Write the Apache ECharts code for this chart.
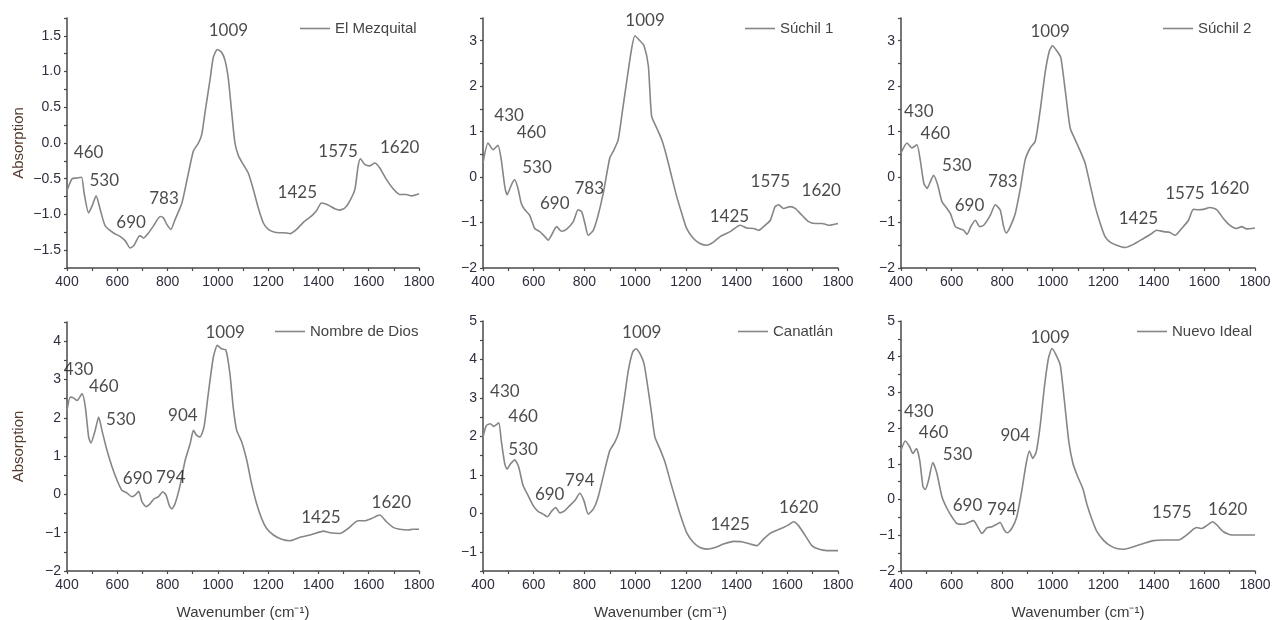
<!DOCTYPE html>
<html>
<head>
<meta charset="utf-8">
<script src="https://cdn.jsdelivr.net/npm/echarts@6/dist/echarts.min.js"></script>
<style>
	html, body { margin: 0; padding: 0; background: #ffffff; }
	#main { width: 1273px; height: 620px; }
</style>
</head>
<body>
<div id="main"></div>
<script>
// spectra: [wavenumber, absorption]
var mezquital = [[400,-0.67],[420,-0.50],[440,-0.49],[458,-0.48],[468,-0.70],[486,-0.98],[500,-0.88],[516,-0.74],[532,-0.93],[552,-1.16],[585,-1.26],[612,-1.31],[632,-1.37],[651,-1.47],[665,-1.44],[685,-1.31],[691,-1.30],[704,-1.33],[724,-1.26],[744,-1.16],[771,-1.03],[784,-1.05],[797,-1.14],[813,-1.21],[830,-1.07],[857,-0.84],[883,-0.42],[903,-0.11],[923,0.0],[936,0.12],[949,0.43],[969,0.89],[982,1.20],[998,1.31],[1015,1.27],[1029,1.15],[1042,0.89],[1055,0.43],[1068,0.0],[1082,-0.18],[1101,-0.30],[1121,-0.42],[1141,-0.65],[1161,-0.91],[1181,-1.12],[1201,-1.21],[1227,-1.25],[1273,-1.26],[1287,-1.27],[1313,-1.21],[1340,-1.11],[1373,-1.02],[1392,-0.95],[1412,-0.84],[1426,-0.85],[1445,-0.88],[1465,-0.92],[1485,-0.94],[1505,-0.91],[1525,-0.81],[1545,-0.65],[1558,-0.32],[1567,-0.22],[1584,-0.30],[1604,-0.32],[1624,-0.28],[1644,-0.35],[1670,-0.51],[1697,-0.64],[1723,-0.72],[1750,-0.72],[1770,-0.74],[1800,-0.71]];
var suchil1 = [[400,0.31],[420,0.75],[440,0.60],[459,0.70],[472,0.38],[486,-0.21],[495,-0.39],[512,-0.17],[525,-0.06],[538,-0.25],[551,-0.58],[565,-0.72],[584,-0.84],[604,-1.13],[624,-1.20],[644,-1.31],[657,-1.39],[670,-1.28],[690,-1.09],[709,-1.19],[729,-1.15],[756,-0.98],[775,-0.72],[789,-0.76],[802,-1.02],[815,-1.28],[835,-1.17],[854,-0.84],[874,-0.36],[900,0.42],[914,0.57],[933,0.82],[947,1.34],[966,2.08],[986,2.82],[999,3.11],[1019,3.00],[1035,2.89],[1052,2.45],[1065,1.34],[1085,1.08],[1105,0.82],[1124,0.46],[1144,0.01],[1164,-0.43],[1184,-0.80],[1203,-1.13],[1230,-1.35],[1256,-1.46],[1282,-1.50],[1309,-1.43],[1335,-1.31],[1375,-1.20],[1414,-1.06],[1440,-1.12],[1467,-1.13],[1487,-1.17],[1506,-1.09],[1533,-0.95],[1552,-0.65],[1566,-0.61],[1585,-0.69],[1612,-0.65],[1631,-0.69],[1658,-0.84],[1684,-0.98],[1710,-1.02],[1737,-1.02],[1763,-1.06],[1800,-1.02]];
var suchil2 = [[400,0.53],[424,0.75],[443,0.64],[463,0.71],[476,0.38],[490,-0.13],[503,-0.25],[516,-0.10],[529,0.04],[545,-0.17],[562,-0.54],[582,-0.69],[595,-0.80],[615,-1.09],[634,-1.14],[648,-1.17],[661,-1.26],[677,-1.08],[694,-0.95],[711,-1.09],[727,-1.06],[753,-0.84],[773,-0.61],[792,-0.72],[806,-1.09],[816,-1.23],[832,-1.09],[852,-0.80],[872,-0.25],[891,0.38],[911,0.64],[931,0.79],[951,1.49],[970,2.30],[987,2.78],[999,2.89],[1016,2.78],[1032,2.63],[1049,1.93],[1069,1.08],[1089,0.82],[1109,0.57],[1128,0.31],[1148,-0.17],[1168,-0.65],[1188,-1.02],[1207,-1.31],[1227,-1.43],[1253,-1.50],[1286,-1.55],[1319,-1.48],[1359,-1.35],[1392,-1.24],[1411,-1.17],[1438,-1.20],[1464,-1.22],[1484,-1.28],[1510,-1.13],[1537,-0.95],[1556,-0.71],[1576,-0.72],[1596,-0.71],[1622,-0.67],[1649,-0.72],[1675,-0.91],[1701,-1.06],[1728,-1.13],[1747,-1.09],[1767,-1.14],[1800,-1.12]];
var nombreDeDios = [[400,2.19],[413,2.54],[426,2.52],[440,2.45],[460,2.63],[473,2.28],[486,1.50],[495,1.34],[512,1.67],[526,2.02],[539,1.67],[559,1.15],[579,0.72],[599,0.37],[618,0.11],[638,0.04],[658,-0.06],[671,-0.02],[685,0.08],[698,-0.19],[714,-0.32],[731,-0.24],[747,-0.11],[764,-0.06],[781,0.07],[794,-0.02],[808,-0.31],[817,-0.38],[830,-0.24],[850,0.24],[870,0.89],[890,1.33],[903,1.67],[916,1.54],[929,1.50],[945,1.76],[962,2.63],[982,3.58],[998,3.89],[1015,3.80],[1032,3.77],[1048,3.15],[1061,2.28],[1075,1.67],[1095,1.37],[1115,0.89],[1134,0.28],[1154,-0.24],[1174,-0.63],[1194,-0.89],[1221,-1.06],[1254,-1.17],[1287,-1.21],[1327,-1.12],[1367,-1.06],[1420,-0.96],[1446,-1.00],[1485,-1.02],[1518,-0.89],[1558,-0.69],[1584,-0.69],[1611,-0.63],[1644,-0.54],[1670,-0.71],[1697,-0.86],[1723,-0.91],[1757,-0.93],[1776,-0.91],[1800,-0.91]];
var canatlan = [[400,1.98],[413,2.28],[429,2.33],[442,2.26],[462,2.35],[472,1.89],[486,1.28],[495,1.15],[508,1.28],[525,1.39],[541,1.20],[558,0.72],[578,0.46],[598,0.20],[617,0.05],[637,-0.02],[654,-0.09],[670,0.05],[687,0.15],[703,0.01],[723,0.07],[742,0.20],[762,0.33],[782,0.52],[798,0.33],[815,-0.02],[835,0.11],[854,0.42],[881,1.15],[900,1.63],[920,1.85],[937,2.15],[956,2.93],[973,3.71],[990,4.19],[1003,4.28],[1019,4.15],[1035,3.89],[1052,3.19],[1065,2.59],[1078,1.98],[1098,1.67],[1118,1.33],[1138,0.85],[1157,0.42],[1177,-0.02],[1203,-0.50],[1230,-0.76],[1256,-0.89],[1282,-0.93],[1315,-0.89],[1348,-0.80],[1388,-0.73],[1421,-0.74],[1454,-0.80],[1480,-0.84],[1506,-0.67],[1533,-0.52],[1559,-0.44],[1585,-0.37],[1605,-0.30],[1625,-0.22],[1644,-0.32],[1671,-0.58],[1697,-0.84],[1723,-0.93],[1756,-0.97],[1800,-0.97]];
var nuevoIdeal = [[400,1.38],[417,1.64],[434,1.48],[447,1.29],[461,1.43],[474,1.10],[487,0.36],[496,0.28],[509,0.54],[526,1.04],[542,0.73],[562,0.08],[582,-0.25],[601,-0.48],[621,-0.67],[648,-0.69],[667,-0.64],[687,-0.59],[703,-0.76],[720,-0.95],[740,-0.79],[760,-0.76],[779,-0.69],[792,-0.64],[808,-0.85],[821,-0.93],[838,-0.81],[858,-0.48],[878,0.26],[895,1.01],[908,1.36],[921,1.15],[935,1.34],[950,2.04],[967,3.15],[983,3.95],[997,4.23],[1014,4.04],[1030,3.76],[1046,2.78],[1063,1.66],[1080,1.01],[1099,0.64],[1119,0.31],[1136,-0.15],[1156,-0.57],[1175,-0.90],[1202,-1.15],[1227,-1.29],[1253,-1.37],[1280,-1.39],[1319,-1.32],[1359,-1.23],[1398,-1.15],[1438,-1.13],[1497,-1.13],[1530,-0.99],[1556,-0.83],[1569,-0.78],[1589,-0.81],[1609,-0.73],[1632,-0.62],[1649,-0.71],[1675,-0.90],[1708,-0.99],[1741,-0.99],[1800,-0.99]];

// peak labels: [text, wavenumber, absorption] of the label centre
var mezquitalPeaks = [['1009',1042,1.57],['460',486,-0.14],['530',548,-0.52],['690',655,-1.11],['783',786,-0.78],['1425',1316,-0.70],['1575',1478,-0.12],['1620',1723,-0.07]];
var suchil1Peaks = [['1009',1039,3.44],['430',503,1.36],['460',591,0.97],['530',613,0.21],['690',683,-0.58],['783',819,-0.25],['1425',1372,-0.86],['1575',1533,-0.10],['1620',1734,-0.30]];
var suchil2Peaks = [['1009',990,3.21],['430',470,1.45],['460',536,0.96],['530',621,0.25],['690',671,-0.62],['783',803,-0.09],['1425',1339,-0.92],['1575',1523,-0.37],['1620',1699,-0.26]];
var nombreDeDiosPeaks = [['1009',1029,4.23],['430',446,3.25],['460',546,2.82],['530',614,1.95],['904',861,2.06],['690',681,0.41],['794',813,0.43],['1425',1410,-0.60],['1620',1690,-0.21]];
var canatlanPeaks = [['1009',1026,4.71],['430',486,3.17],['460',558,2.52],['530',558,1.67],['690',663,0.48],['794',782,0.85],['1425',1375,-0.28],['1620',1645,0.15]];
var nuevoIdealPeaks = [['1009',990,4.55],['430',470,2.46],['460',529,1.87],['530',624,1.26],['904',852,1.80],['690',663,-0.17],['794',799,-0.27],['1575',1471,-0.36],['1620',1692,-0.29]];

var panels = [
	{name:'El Mezquital', data:mezquital, peaks:mezquitalPeaks, yMin:-1.75, yMax:1.75, yStep:0.5, dec:1,
		grid:{left:67, top:18, width:352, height:250}, legend:{left:300, top:21}, yTitle:true, xTitle:false},
	{name:'Súchil 1', data:suchil1, peaks:suchil1Peaks, yMin:-2, yMax:3.5, yStep:1, dec:0,
		grid:{left:483, top:18, width:355, height:250}, legend:{left:745, top:21}, yTitle:false, xTitle:false},
	{name:'Súchil 2', data:suchil2, peaks:suchil2Peaks, yMin:-2, yMax:3.5, yStep:1, dec:0,
		grid:{left:901, top:18, width:354, height:250}, legend:{left:1163, top:21}, yTitle:false, xTitle:false},
	{name:'Nombre de Dios', data:nombreDeDios, peaks:nombreDeDiosPeaks, yMin:-2, yMax:4.5, yStep:1, dec:0,
		grid:{left:67, top:322, width:352, height:249}, legend:{left:275, top:324}, yTitle:true, xTitle:true},
	{name:'Canatlán', data:canatlan, peaks:canatlanPeaks, yMin:-1.5, yMax:5, yStep:1, dec:0,
		grid:{left:483, top:321, width:355, height:250}, legend:{left:738, top:324}, yTitle:false, xTitle:true},
	{name:'Nuevo Ideal', data:nuevoIdeal, peaks:nuevoIdealPeaks, yMin:-2, yMax:5, yStep:1, dec:0,
		grid:{left:901, top:321, width:354, height:250}, legend:{left:1137, top:324}, yTitle:false, xTitle:true}
];

var axisColor = '#4a4a4a';
var labelColor = '#2e2e3e';
var curveColor = '#868686';

var onStep = function(v, step){
	var r = v / step;
	return Math.abs(r - Math.round(r)) < 1e-6;
};

var grids = [], xAxes = [], yAxes = [], series = [], legends = [];

panels.forEach(function(p, i){
	// fixed plot boxes, do not let ECharts shrink them for the labels
	var g = p.grid;
	grids.push({left:g.left, top:g.top, width:g.width, height:g.height, outerBoundsMode:'none', containLabel:false});

	xAxes.push({
		type:'value', gridIndex:i, min:400, max:1800, interval:100,
		name:p.xTitle ? 'Wavenumber (cm\u207B\u00B9)' : '',
		nameLocation:'middle', nameGap:34,
		nameTextStyle:{fontFamily:'Liberation Sans', fontSize:15, color:'#3a3a3a'},
		axisLine:{show:true, onZero:false, lineStyle:{color:axisColor, width:1.5}},
		axisTick:{show:true, inside:false, length:3, lineStyle:{color:axisColor, width:1.2}},
		axisLabel:{
			margin:7, fontFamily:'Liberation Sans', fontSize:14, color:labelColor,
			formatter:function(v){ return onStep(v, 200) ? String(v) : ''; }
		},
		splitLine:{show:false}
	});

	yAxes.push({
		type:'value', gridIndex:i, min:p.yMin, max:p.yMax, interval:p.yStep / 2,
		name:p.yTitle ? 'Absorption' : '',
		nameLocation:'middle', nameGap:41,
		nameTextStyle:{fontFamily:'Liberation Sans', fontSize:15, color:'#553a2e'},
		axisLine:{show:true, onZero:false, lineStyle:{color:axisColor, width:1.5}},
		axisTick:{show:true, inside:false, length:3, lineStyle:{color:axisColor, width:1.2}},
		axisLabel:{
			margin:6, fontFamily:'Liberation Sans', fontSize:14, color:labelColor,
			formatter:function(v){
				if( !onStep(v, p.yStep) ) return '';
				return v.toFixed(p.dec).replace('-', '\u2212');
			}
		},
		splitLine:{show:false}
	});

	series.push({
		name:p.name, type:'line', xAxisIndex:i, yAxisIndex:i,
		data:p.data, symbol:'none', smooth:0.2,
		lineStyle:{color:curveColor, width:1.6},
		itemStyle:{color:curveColor}
	});

	series.push({
		name:p.name + ' peaks', type:'scatter', xAxisIndex:i, yAxisIndex:i,
		symbol:'circle', symbolSize:1, itemStyle:{color:'rgba(0,0,0,0)'},
		data:p.peaks.map(function(pk){ return {name:pk[0], value:[pk[1], pk[2]]}; }),
		label:{show:true, position:'inside', formatter:'{b}',
			fontFamily:'Lato', fontSize:17, color:'#1c1c1c'},
		z:5
	});

	// legend: a plain line segment, no marker
	legends.push({
		data:[{name:p.name, icon:'rect'}], left:p.legend.left, top:p.legend.top,
		itemWidth:30, itemHeight:1.6, padding:0,
		itemStyle:{color:curveColor},
		textStyle:{fontFamily:'Liberation Sans', fontSize:15, color:'#444444'}
	});
});

var chart = echarts.init( document.getElementById( 'main' ) );
chart.setOption( {
	animation:false,
	backgroundColor:'#ffffff',
	grid:grids,
	xAxis:xAxes,
	yAxis:yAxes,
	legend:legends,
	series:series
} );
</script>
</body>
</html>
